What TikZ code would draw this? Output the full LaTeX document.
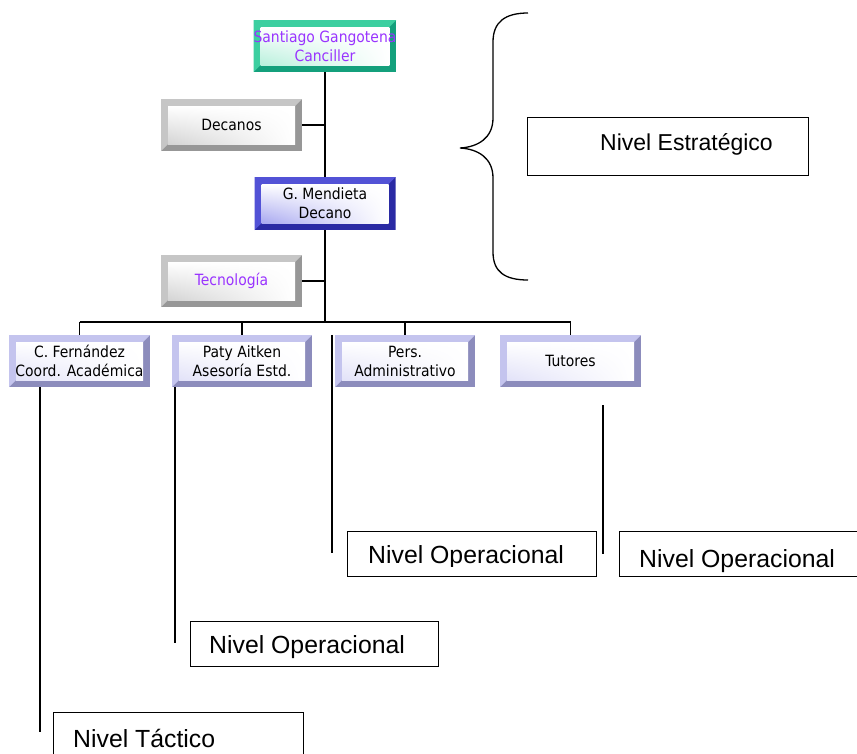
\documentclass[tikz,border=0pt]{standalone}
\usepackage{fontspec}
\setmainfont{Liberation Sans}
\newfontfamily\boxfont{DejaVu Sans Condensed}
\usetikzlibrary{calc,shadings}

\definecolor{tealL}{HTML}{3CCFA0}
\definecolor{tealD}{HTML}{14A07C}
\definecolor{tealT}{HTML}{B8F0DC}
\definecolor{grayL}{HTML}{C6C6C6}
\definecolor{grayD}{HTML}{979797}
\definecolor{grayT}{HTML}{D4D4D4}
\definecolor{blueL}{HTML}{5252D6}
\definecolor{blueD}{HTML}{2A2AA4}
\definecolor{blueT}{HTML}{A8A8F0}
\definecolor{lavL}{HTML}{C4C4EE}
\definecolor{lavD}{HTML}{8C8CBC}
\definecolor{lavT}{HTML}{E2E2F8}
\definecolor{purp}{HTML}{9933FF}

% bevelled fill: light top/left edges, dark bottom/right edges, tinted inner face
\newcommand\bevelbox[3]{%
  \coordinate (bnw) at (path picture bounding box.north west);
  \coordinate (bne) at (path picture bounding box.north east);
  \coordinate (bsw) at (path picture bounding box.south west);
  \coordinate (bse) at (path picture bounding box.south east);
  \fill[#2] (bnw) rectangle (bse);
  \fill[#1] (bsw) -- (bnw) -- (bne) -- ($(bne)+(-7pt,-7pt)$) -- ($(bnw)+(7pt,-7pt)$) -- ($(bsw)+(7pt,7pt)$) -- cycle;
  \shade[upper left=white,upper right=white,lower right=white,lower left=#3]
    ($(bnw)+(7pt,-7pt)$) rectangle ($(bse)+(-7pt,7pt)$);
}

\tikzset{
  orgbox/.style n args={3}{rectangle, minimum width=141pt, minimum height=52pt,
    inner sep=0pt, align=center, font=\boxfont\fontsize{15.5}{19}\selectfont,
    path picture={\bevelbox{#1}{#2}{#3}}},
  nivel/.style={draw, line width=1.3pt, rectangle, inner sep=0pt, anchor=north west},
  nivtext/.style={inner sep=0pt, anchor=base west, font=\fontsize{24.8}{28}\selectfont},
  link/.style={line width=1.2pt},
}

\begin{document}
\begin{tikzpicture}[x=1pt,y=-1pt]
\useasboundingbox (0,0) rectangle (857,753);
\clip (0,0) rectangle (857,753);
\fill[white] (0,0) rectangle (857,753);

% organisation boxes
\node[orgbox={tealL}{tealD}{tealT}, minimum width=142pt, text=purp] (sg) at (325,46) {Santiago Gangotena\\Canciller};
\node[orgbox={grayL}{grayD}{grayT}] (dec) at (231.5,125) {Decanos};
\node[orgbox={blueL}{blueD}{blueT}, minimum height=53pt] (gm) at (325,203.5) {G. Mendieta\\Decano};
\node[orgbox={grayL}{grayD}{grayT}, text=purp] (tec) at (231.5,281) {Tecnología};
\node[orgbox={lavL}{lavD}{lavT}] (cf) at (79.5,361) {C. Fernández\\Coord. Académica};
\node[orgbox={lavL}{lavD}{lavT}, minimum width=140pt] (pa) at (242,361) {Paty Aitken\\Asesoría Estd.};
\node[orgbox={lavL}{lavD}{lavT}, minimum width=140pt] (pe) at (405,361) {Pers.\\Administrativo};
\node[orgbox={lavL}{lavD}{lavT}] (tu) at (570.5,361) {Tutores};

% hierarchy connectors
\coordinate (bar) at (325,322);
\draw[link] (sg.south) -- (gm.north);
\draw[link] (gm.south) -- (bar);
\draw[link] (dec.east) -- (dec.east -| sg.south);
\draw[link] (tec.east) -- (tec.east -| sg.south);
\draw[link] (cf.north |- bar) -- (tu.north |- bar);
\foreach \n in {cf,pa,pe,tu} \draw[link] (\n.north |- bar) -- (\n.north);

% level boxes
\node[nivel, minimum width=281pt, minimum height=58pt] (nest) at (527,117) {};
\node[nivtext, font=\fontsize{23}{27}\selectfont] (nestt) at (600,150) {Nivel Estratégico};
\node[nivel, minimum width=250pt, minimum height=60pt] (ntac) at (53,712) {};
\node[nivtext] (ntact) at (73,747) {Nivel Táctico};
\node[nivel, minimum width=248pt, minimum height=45pt] (nop1) at (190,621) {};
\node[nivtext] (nop1t) at (209,653) {Nivel Operacional};
\node[nivel, minimum width=249pt, minimum height=45pt] (nop2) at (347,531) {};
\node[nivel, minimum width=260pt, minimum height=45pt] (nop3) at (619,531) {};
% the two right-hand labels are cut off at the lower edge of their frames
\begin{scope}
  \clip (347,531) rectangle (596,566);
  \node[nivtext] (nop2t) at (368,563) {Nivel Operacional};
\end{scope}
\begin{scope}
  \clip (619,531) rectangle (857,575);
  \node[nivtext] (nop3t) at (639,567) {Nivel Operacional};
\end{scope}

% vertical leaders towards the level boxes
\coordinate (lcf) at (40,732);
\coordinate (lpa) at (175,643);
\coordinate (lpe) at (332,553);
\coordinate (ltuA) at (603,405);
\coordinate (ltuB) at (603,554);
\draw[link] (lcf |- cf.south) -- (lcf);
\draw[link] (lpa |- pa.south) -- (lpa);
\draw[link] (lpe |- pe.north) -- (lpe);
\draw[link] (ltuA) -- (ltuB);

% brace spanning the upper levels
\draw[line width=1.3pt] (528,13) .. controls (505,13) and (493,22) .. (493,42)
  -- (493,118) .. controls (493,138) and (478,147) .. (460,148)
  .. controls (478,149) and (493,158) .. (493,178)
  -- (493,252) .. controls (493,272) and (505,280) .. (528,280);
\end{tikzpicture}
\end{document}
